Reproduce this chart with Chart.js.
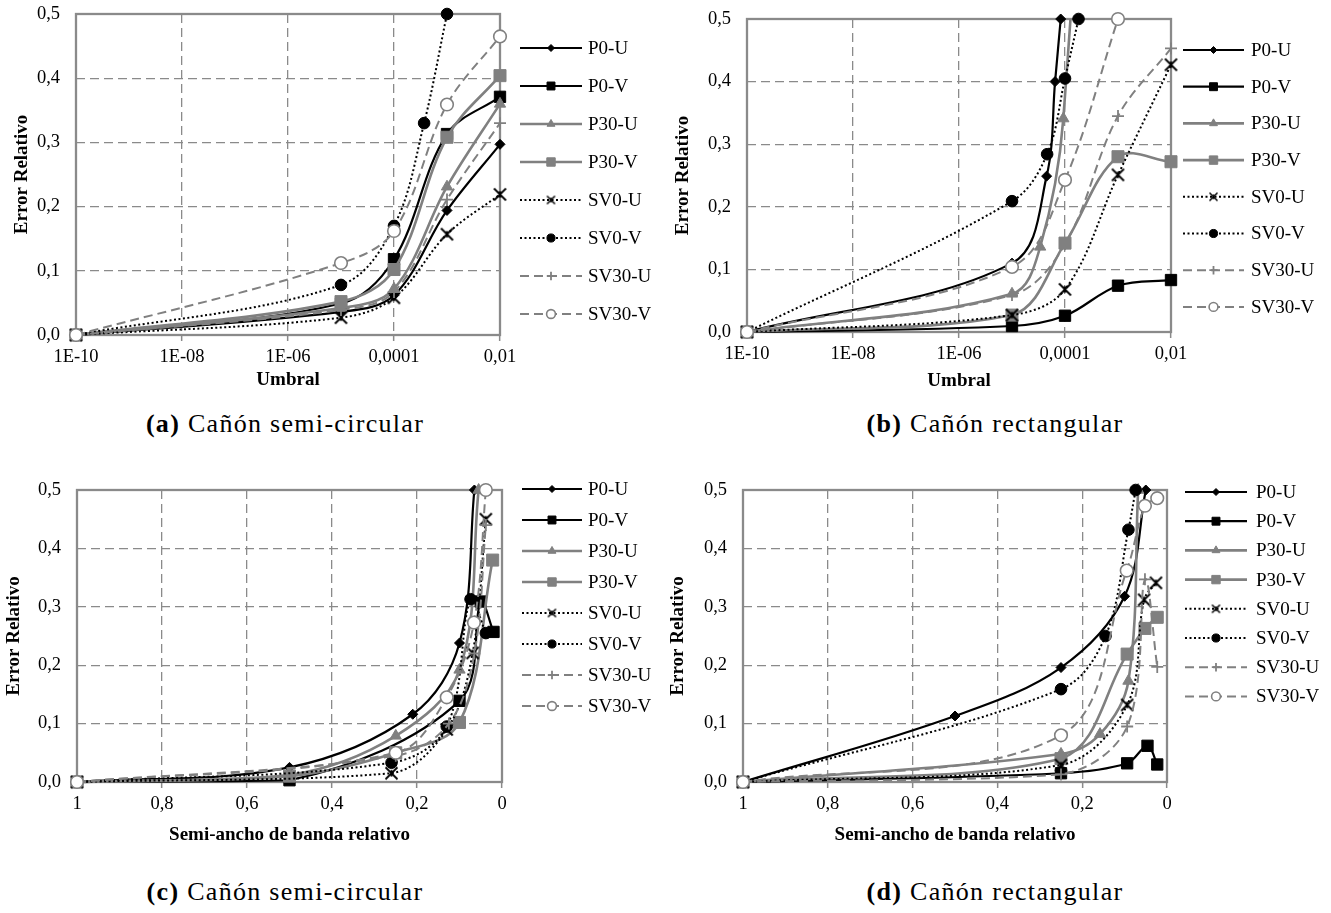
<!DOCTYPE html>
<html><head><meta charset="utf-8">
<script src="https://cdn.jsdelivr.net/npm/chart.js@4.4.1/dist/chart.umd.min.js"></script>
<style>
body{margin:0;background:#fff;width:1331px;height:913px;position:relative;overflow:hidden;}
canvas{position:absolute;}
.cap{position:absolute;font-family:'Liberation Serif',serif;font-size:26px;letter-spacing:1.3px;color:#000;white-space:nowrap;transform:translate(-50%,-50%);}
.cap b{font-weight:bold;}
</style></head><body>
<canvas id="ca" width="660" height="400" style="left:0;top:0"></canvas>
<canvas id="cb" width="671" height="400" style="left:660px;top:0"></canvas>
<canvas id="cc" width="660" height="410" style="left:0;top:460px"></canvas>
<canvas id="cd" width="671" height="410" style="left:660px;top:460px"></canvas>
<div class="cap" style="left:285px;top:424px"><b>(a)</b> Cañón semi-circular</div>
<div class="cap" style="left:995px;top:424px"><b>(b)</b> Cañón rectangular</div>
<div class="cap" style="left:285px;top:892px"><b>(c)</b> Cañón semi-circular</div>
<div class="cap" style="left:995px;top:892px"><b>(d)</b> Cañón rectangular</div>
<script>
// ---------- DATA ----------
const seriesNames = ['P0-U','P0-V','P30-U','P30-V','SV0-U','SV0-V','SV30-U','SV30-V'];
const yTickVals = [0, 0.1, 0.2, 0.3, 0.4, 0.5];
const yTickLabels = ['0,0','0,1','0,2','0,3','0,4','0,5'];
const umbralTickVals = [1e-10, 1e-8, 1e-6, 1e-4, 1e-2];
const umbralTickLabels = ['1E-10','1E-08','1E-06','0,0001','0,01'];
const anchoTickVals = [1, 0.8, 0.6, 0.4, 0.2, 0];
const anchoTickLabels = ['1','0,8','0,6','0,4','0,2','0'];

// (a) Cañón semi-circular - Umbral
const umbralA = [1e-10, 1e-5, 1e-4, 1e-3, 1e-2];
const a_P0U = [0, 0.036, 0.062, 0.194, 0.297];
const a_P0V = [0, 0.049, 0.118, 0.313, 0.371];
const a_P30U = [0, 0.042, 0.072, 0.231, 0.36];
const a_P30V = [0, 0.052, 0.102, 0.308, 0.404];
const a_SV0U = [0, 0.027, 0.058, 0.157, 0.219];
const a_SV0V_x = [1e-10, 1e-5, 1e-4, 3.7e-4, 1e-3];
const a_SV0V = [0, 0.078, 0.17, 0.33, 0.5];
const a_SV30U = [0, 0.039, 0.067, 0.211, 0.33];
const a_SV30V = [0, 0.112, 0.162, 0.359, 0.465];

// (b) Cañón rectangular - Umbral
const umbralB = [1e-10, 1e-5, 1e-4, 1e-3, 1e-2];
const b_P0U_x = [1e-10, 1e-5, 4.5e-5, 6.5e-5, 8.3e-5];
const b_P0U = [0, 0.11, 0.249, 0.40, 0.5];
const b_P0V = [0, 0.0096, 0.026, 0.074, 0.083];
const b_P30U_x = [1e-10, 1e-5, 3.4e-5, 9.3e-5, 1e-3];
const b_P30U = [0, 0.061, 0.136, 0.341, 1.8];
const b_P30V = [0, 0.027, 0.142, 0.28, 0.272];
const b_SV0U = [0, 0.027, 0.068, 0.251, 0.427];
const b_SV0V_x = [1e-10, 1e-5, 4.6e-5, 1e-4, 1.8e-4];
const b_SV0V = [0, 0.209, 0.284, 0.405, 0.5];
const b_SV30U = [0, 0.059, 0.14, 0.345, 0.453];
const b_SV30V_x = [1e-10, 1e-5, 1e-4, 1e-3];
const b_SV30V = [0, 0.104, 0.243, 0.5];

// (c) Cañón semi-circular - Semi-ancho de banda relativo
const c_P0U_x = [1, 0.5, 0.21, 0.1, 0.065];
const c_P0U = [0, 0.025, 0.116, 0.238, 0.5];
const c_P0V_x = [1, 0.5, 0.1, 0.05, 0.02];
const c_P0V = [0, 0.003, 0.139, 0.309, 0.257];
const c_P30U_x = [1, 0.5, 0.25, 0.1, 0.055];
const c_P30U = [0, 0.012, 0.079, 0.192, 0.5];
const c_P30V_x = [1, 0.5, 0.25, 0.1, 0.022];
const c_P30V = [0, 0.01, 0.05, 0.102, 0.38];
const c_SV0U_x = [1, 0.26, 0.13, 0.069, 0.038];
const c_SV0U = [0, 0.015, 0.09, 0.221, 0.45];
const c_SV0V_x = [1, 0.26, 0.13, 0.074, 0.038];
const c_SV0V = [0, 0.033, 0.095, 0.313, 0.255];
const c_SV30U_x = [1, 0.25, 0.125, 0.065, 0.038];
const c_SV30U = [0, 0.045, 0.1, 0.22, 0.44];
const c_SV30V_x = [1, 0.25, 0.13, 0.066, 0.038];
const c_SV30V = [0, 0.05, 0.145, 0.273, 0.5];

// (d) Cañón rectangular - Semi-ancho de banda relativo
const d_P0U_x = [1, 0.5, 0.25, 0.1, 0.05];
const d_P0U = [0, 0.113, 0.196, 0.318, 0.5];
const d_P0V_x = [1, 0.25, 0.094, 0.046, 0.023];
const d_P0V = [0, 0.015, 0.032, 0.062, 0.03];
const d_P30U_x = [1, 0.25, 0.158, 0.091, 0.068];
const d_P30U = [0, 0.048, 0.082, 0.173, 0.5];
const d_P30V_x = [1, 0.25, 0.094, 0.052, 0.023];
const d_P30V = [0, 0.04, 0.219, 0.263, 0.282];
const d_SV0U_x = [1, 0.25, 0.094, 0.054, 0.026];
const d_SV0U = [0, 0.029, 0.132, 0.312, 0.341];
const d_SV0V_x = [1, 0.25, 0.145, 0.091, 0.074];
const d_SV0V = [0, 0.159, 0.25, 0.432, 0.5];
const d_SV30U_x = [1, 0.25, 0.094, 0.052, 0.023];
const d_SV30U = [0, 0.013, 0.095, 0.347, 0.197];
const d_SV30V_x = [1, 0.25, 0.095, 0.052, 0.023];
const d_SV30V = [0, 0.08, 0.362, 0.473, 0.486];

// ---------- STYLE ----------
const BLACK = '#000000', GRAY = '#808080', GRIDC = '#8a8a8a';
const FONT = "'Liberation Serif', 'Times New Roman', serif";

function starCanvas(size, lw){
  const c = document.createElement('canvas'); c.width = size; c.height = size;
  const g = c.getContext('2d'); g.strokeStyle = '#000'; g.lineWidth = lw;
  const m = size/2, r = size/2 - 1.5;
  g.beginPath();
  g.moveTo(m-r, m-r); g.lineTo(m+r, m+r);
  g.moveTo(m+r, m-r); g.lineTo(m-r, m+r);
  g.moveTo(m, m-r*0.55); g.lineTo(m, m+r*0.55);
  g.stroke();
  return c;
}
const STAR = starCanvas(15, 1.8);
const STAR_SMALL = starCanvas(11, 1.5);

const seriesStyle = [
  {color:BLACK, width:2.2, dash:[],    point:'rectRot', r:5,   fill:BLACK, pbw:1},
  {color:BLACK, width:2.2, dash:[],    point:'rect',    r:8,   fill:BLACK, pbw:1},
  {color:GRAY,  width:2.6, dash:[],    point:'triangle',r:6.5, fill:GRAY,  pbw:1},
  {color:GRAY,  width:2.6, dash:[],    point:'rect',    r:8.5, fill:GRAY,  pbw:1},
  {color:BLACK, width:2,   dash:[2,2.5], point:'star',  r:7,   fill:BLACK, pbw:1},
  {color:BLACK, width:2,   dash:[2,2.5], point:'circle',r:5.8, fill:BLACK, pbw:1},
  {color:GRAY,  width:2,   dash:[9,5], point:'cross',   r:6,   fill:GRAY,  pbw:1.8},
  {color:GRAY,  width:2,   dash:[9,5], point:'circle',  r:6.3, fill:'#ffffff', pbw:1.6}
];

function mk(i, xs, ys, extra){
  const s = seriesStyle[i];
  const ds = {
    label: seriesNames[i],
    data: xs.map((x,k)=>({x:x, y:ys[k]})),
    showLine: true,
    borderColor: s.color, backgroundColor: s.color,
    borderWidth: s.width, borderDash: s.dash,
    tension: 0.35,
    pointStyle: s.point === 'star' ? STAR : s.point,
    markerKind: s.point,
    pointRadius: s.r, pointHoverRadius: s.r,
    pointBackgroundColor: s.fill,
    pointBorderColor: s.color,
    pointBorderWidth: s.pbw,
    order: 8 - i,
    clip: false
  };
  return Object.assign(ds, extra || {});
}

function drawMarker(ctx, ds, x, y, sc){
  const r = ds.pointRadius * sc;
  ctx.save();
  ctx.setLineDash([]);
  ctx.fillStyle = ds.pointBackgroundColor; ctx.strokeStyle = ds.pointBorderColor;
  ctx.lineWidth = ds.pointBorderWidth;
  const k = ds.markerKind;
  ctx.beginPath();
  if (k === 'circle') { ctx.arc(x, y, r, 0, Math.PI*2); ctx.fill(); ctx.stroke(); }
  else if (k === 'rect') { const h = r*Math.SQRT1_2; ctx.rect(x-h, y-h, 2*h, 2*h); ctx.fill(); ctx.stroke(); }
  else if (k === 'rectRot') { ctx.moveTo(x, y-r); ctx.lineTo(x+r, y); ctx.lineTo(x, y+r); ctx.lineTo(x-r, y); ctx.closePath(); ctx.fill(); ctx.stroke(); }
  else if (k === 'triangle') {
    for (let j=0;j<3;j++){ const a = -Math.PI/2 + j*2*Math.PI/3; const px = x + Math.cos(a)*r, py = y + Math.sin(a)*r; if (j===0) ctx.moveTo(px,py); else ctx.lineTo(px,py); }
    ctx.closePath(); ctx.fill(); ctx.stroke();
  }
  else if (k === 'cross') { ctx.moveTo(x, y-r); ctx.lineTo(x, y+r); ctx.moveTo(x-r, y); ctx.lineTo(x+r, y); ctx.stroke(); }
  else if (k === 'star') { ctx.drawImage(STAR_SMALL, x - STAR_SMALL.width/2, y - STAR_SMALL.height/2); }
  ctx.restore();
}

const legendPlugin = {
  id: 'xlegend',
  afterDraw(chart, args, opts){
    const ctx = chart.ctx;
    chart.data.datasets.forEach((ds, i) => {
      const y = opts.y0 + i*opts.dy;
      ctx.save();
      ctx.strokeStyle = ds.borderColor; ctx.lineWidth = ds.borderWidth;
      ctx.setLineDash(ds.borderDash || []);
      ctx.beginPath(); ctx.moveTo(opts.x0, y); ctx.lineTo(opts.x1, y); ctx.stroke();
      ctx.restore();
      drawMarker(ctx, ds, (opts.x0 + opts.x1)/2, y, 0.7);
      ctx.save();
      ctx.fillStyle = '#000'; ctx.font = '19px ' + FONT;
      ctx.textBaseline = 'middle'; ctx.textAlign = 'left';
      ctx.fillText(ds.label, opts.tx, y + 1);
      ctx.restore();
    });
  }
};
const framePlugin = {
  id: 'xframe',
  beforeDatasetsDraw(chart){
    const a = chart.chartArea, ctx = chart.ctx;
    ctx.save(); ctx.strokeStyle = GRIDC; ctx.lineWidth = 2.3; ctx.setLineDash([]);
    ctx.strokeRect(a.left, a.top, a.right - a.left, a.bottom - a.top);
    ctx.restore();
  }
};

function makeChart(id, g, xcfg, datasets, legend){
  const el = document.getElementById(id);
  const W = el.width, H = el.height;
  const xScale = Object.assign({
    position: 'bottom',
    afterBuildTicks: s => { s.ticks = xcfg.ticks.map(v => ({value: v})); },
    afterFit: s => { s.height = H - g.bottom; s.paddingLeft = 0; s.paddingRight = 0; },
    ticks: { callback: (v, i) => xcfg.labels[i], font: {family: FONT, size: 18.5}, color: '#000', padding: 5, maxRotation: 0, autoSkip: false },
    grid: { color: GRIDC, lineWidth: 1.3, drawTicks: true, tickLength: 6, tickColor: GRIDC, tickWidth: 1.5, tickBorderDash: [] },
    border: { display: false, dash: [9, 5] },
    title: { display: true, text: xcfg.title, font: {family: FONT, size: 19, weight: 'bold'}, color: '#000', padding: {top: 0, bottom: g.xtp} }
  }, xcfg.extra);
  return new Chart(el, {
    type: 'scatter',
    data: { datasets: datasets },
    options: {
      responsive: false, animation: false, events: [],
      layout: { padding: { left: 0, top: g.top, right: W - g.right, bottom: 0 } },
      plugins: { legend: { display: false }, tooltip: { enabled: false }, xlegend: legend },
      scales: {
        x: xScale,
        y: {
          type: 'linear', min: 0, max: 0.5, position: 'left',
          afterBuildTicks: s => { s.ticks = yTickVals.map(v => ({value: v})); },
          afterFit: s => { s.width = g.left; s.paddingTop = 0; s.paddingBottom = 0; },
          ticks: { callback: (v, i) => yTickLabels[i], font: {family: FONT, size: 18.5}, color: '#000', padding: 16 },
          grid: { color: GRIDC, lineWidth: 1.3, drawTicks: false },
          border: { display: false, dash: [9, 5] },
          title: { display: true, text: 'Error Relativo', font: {family: FONT, size: 19, weight: 'bold'}, color: '#000', padding: {top: g.ytp, bottom: 0} }
        }
      }
    },
    plugins: [legendPlugin, framePlugin]
  });
}

const logX = (title) => ({ ticks: umbralTickVals, labels: umbralTickLabels, title: title, extra: { type: 'logarithmic', min: 1e-10, max: 1e-2 } });
const linX = (title) => ({ ticks: anchoTickVals, labels: anchoTickLabels, title: title, extra: { type: 'linear', min: 0, max: 1, reverse: true } });

makeChart('ca', {left: 76, right: 500, top: 14, bottom: 335, ytp: 10.3, xtp: 8.6}, logX('Umbral'), [
  mk(0, umbralA, a_P0U), mk(1, umbralA, a_P0V), mk(2, umbralA, a_P30U), mk(3, umbralA, a_P30V),
  mk(4, umbralA, a_SV0U), mk(5, a_SV0V_x, a_SV0V), mk(6, umbralA, a_SV30U), mk(7, umbralA, a_SV30V)
], {x0: 520, x1: 582, tx: 588, y0: 48, dy: 38});

makeChart('cb', {left: 87, right: 511, top: 19, bottom: 332, ytp: 11.9, xtp: 7.6}, logX('Umbral'), [
  mk(0, b_P0U_x, b_P0U), mk(1, umbralB, b_P0V),
  mk(2, b_P30U_x, b_P30U, {clip: {top: 0, left: false, right: false, bottom: false}}),
  mk(3, umbralB, b_P30V), mk(4, umbralB, b_SV0U), mk(5, b_SV0V_x, b_SV0V),
  mk(6, umbralB, b_SV30U), mk(7, b_SV30V_x, b_SV30V)
], {x0: 523, x1: 584, tx: 591, y0: 50, dy: 36.7});

makeChart('cc', {left: 77, right: 502, top: 30, bottom: 322, ytp: 2.8, xtp: 23.6}, linX('Semi-ancho de banda relativo'), [
  mk(0, c_P0U_x, c_P0U), mk(1, c_P0V_x, c_P0V), mk(2, c_P30U_x, c_P30U), mk(3, c_P30V_x, c_P30V),
  mk(4, c_SV0U_x, c_SV0U), mk(5, c_SV0V_x, c_SV0V), mk(6, c_SV30U_x, c_SV30U), mk(7, c_SV30V_x, c_SV30V)
], {x0: 522, x1: 582, tx: 588, y0: 29, dy: 31});

makeChart('cd', {left: 83, right: 507, top: 30, bottom: 322, ytp: 6.9, xtp: 23.6}, linX('Semi-ancho de banda relativo'), [
  mk(0, d_P0U_x, d_P0U), mk(1, d_P0V_x, d_P0V), mk(2, d_P30U_x, d_P30U), mk(3, d_P30V_x, d_P30V),
  mk(4, d_SV0U_x, d_SV0U), mk(5, d_SV0V_x, d_SV0V), mk(6, d_SV30U_x, d_SV30U), mk(7, d_SV30V_x, d_SV30V)
], {x0: 525, x1: 587, tx: 596, y0: 32, dy: 29.2});
</script>
</body></html>
